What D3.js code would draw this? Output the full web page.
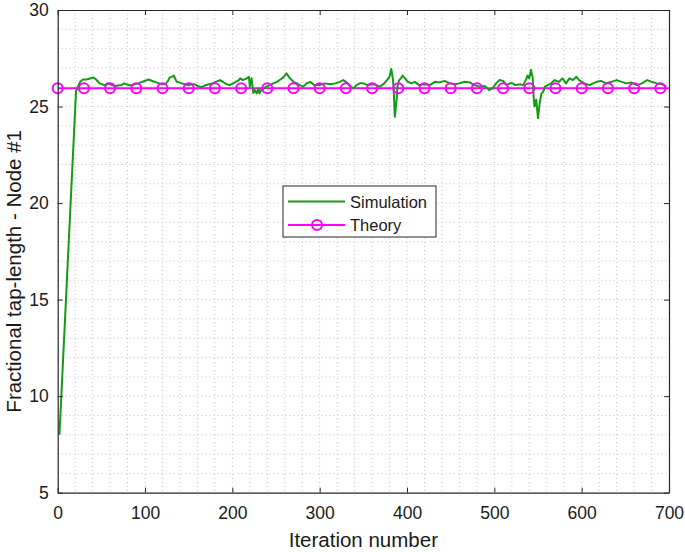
<!DOCTYPE html>
<html>
<head>
<meta charset="utf-8">
<script src="https://cdn.jsdelivr.net/npm/d3@7"></script>
<style>
  body { margin: 0; background: #fff; }
  svg { font-family: "Liberation Sans", Arial, sans-serif; }
</style>
</head>
<body>
<svg id="chart" width="685" height="552"></svg>
<script>
// simulated fractional tap-length
var simIter = [2, 21, 23, 26, 29, 33, 37, 41, 44, 48, 51, 54, 57, 60, 63, 66, 70, 73, 76, 79,
  82, 85, 88, 92, 95, 98, 101, 104, 107, 110, 113, 116, 119, 123, 126, 128, 131, 133, 136, 139,
  142, 146, 150, 153, 157, 161, 165, 169, 173, 177, 181, 186, 190, 194, 197, 201, 204, 207, 209, 212,
  216, 219, 220, 222, 224, 226, 228, 230, 231, 233, 236, 239, 243, 247, 251, 255, 258, 262, 266, 270,
  274, 277, 281, 285, 289, 294, 300, 306, 312, 318, 323, 327, 331, 335, 339, 342, 346, 350, 355, 363,
  369, 374, 377, 380, 382, 384, 385, 386, 388, 389, 391, 393, 395, 397, 401, 405, 409, 414, 420, 426,
  432, 437, 443, 449, 455, 460, 466, 472, 477, 483, 489, 494, 498, 502, 506, 510, 514, 518, 521, 524,
  530, 533, 536, 538, 540, 542, 544, 545, 546, 548, 550, 552, 554, 556, 558, 561, 565, 569, 574, 578,
  582, 586, 590, 594, 597, 603, 609, 613, 617, 622, 628, 634, 640, 646, 651, 657, 663, 669, 675, 680,
  686, 692, 697];
var simValue = [8.0, 25.8, 26.0, 26.3, 26.4, 26.4, 26.45, 26.5, 26.4, 26.2, 26.15, 26.1, 26.2, 26.15, 26.1, 26.05, 26.1, 26.1, 26.2, 26.15,
  26.1, 26.1, 26.15, 26.2, 26.25, 26.3, 26.35, 26.4, 26.35, 26.3, 26.25, 26.2, 26.15, 26.15, 26.3, 26.5, 26.55, 26.6, 26.3, 26.25,
  26.2, 26.15, 26.1, 26.15, 26.15, 26.05, 26.0, 26.1, 26.15, 26.2, 26.28, 26.37, 26.25, 26.15, 26.11, 26.2, 26.28, 26.35, 26.46, 26.37,
  26.45, 26.54, 26.03, 26.46, 25.7, 25.85, 25.68, 25.95, 25.68, 25.85, 25.94, 26.03, 26.11, 26.2, 26.28, 26.4, 26.5, 26.72, 26.46, 26.28,
  26.2, 26.11, 26.03, 26.2, 26.28, 26.11, 26.11, 26.2, 26.15, 26.2, 26.28, 26.37, 26.25, 26.03, 25.94, 26.11, 26.2, 26.2, 26.11, 26.15,
  26.03, 26.2, 26.37, 26.55, 26.95, 26.37, 25.6, 24.47, 25.3, 26.03, 26.37, 26.46, 26.6, 26.5, 26.28, 26.2, 26.28, 26.11, 26.15, 26.11,
  26.28, 26.25, 26.33, 26.2, 26.15, 26.2, 26.28, 26.25, 26.11, 26.03, 26.06, 25.85, 25.94, 26.2, 26.37, 26.33, 26.11, 26.2, 26.2, 26.11,
  26.15, 26.11, 26.37, 26.6, 26.46, 26.9, 26.46, 25.5, 25.0, 25.35, 24.4, 25.2, 25.68, 25.77, 26.03, 26.11, 26.2, 26.37, 26.28, 26.46,
  26.2, 26.46, 26.37, 26.54, 26.37, 26.2, 26.11, 26.2, 26.28, 26.33, 26.2, 26.28, 26.37, 26.28, 26.2, 26.24, 26.11, 26.2, 26.37, 26.28,
  26.2, 26.15, 26.03];

// theoretical steady state, markers every 30 iterations
var theoryIter = d3.range(0, 691, 30);
var theoryValue = 25.95;

var xTicks = [0, 100, 200, 300, 400, 500, 600, 700];
var yTicks = [5, 10, 15, 20, 25, 30];

var svg = d3.select("#chart");
var margin = {left: 57.7, top: 10, right: 16, bottom: 59.3};
var width = 685 - margin.left - margin.right;
var height = 552 - margin.top - margin.bottom;

var x = d3.scaleLinear().domain([0, 700]).range([0, width]);
var y = d3.scaleLinear().domain([5, 30]).range([height, 0]);

var g = svg.append("g").attr("transform", "translate(" + margin.left + "," + margin.top + ")");

// dotted grid (every 20 in x, every 1 in y)
var grid = g.append("g").attr("stroke", "#c4c4c4").attr("stroke-width", 1).attr("stroke-dasharray", "1,3");
d3.range(20, 700, 20).forEach(function (v) {
  grid.append("line").attr("x1", x(v)).attr("x2", x(v)).attr("y1", 0).attr("y2", height);
});
d3.range(6, 30, 1).forEach(function (v) {
  grid.append("line").attr("x1", 0).attr("x2", width).attr("y1", y(v)).attr("y2", y(v));
});

var line = d3.line().x(function (d) { return x(d[0]); }).y(function (d) { return y(d[1]); });

// theory line
g.append("line")
  .attr("x1", x(0)).attr("x2", x(700))
  .attr("y1", y(theoryValue)).attr("y2", y(theoryValue))
  .attr("stroke", "#ff00ff").attr("stroke-width", 2);

// simulation
g.append("path")
  .datum(simIter.map(function (d, i) { return [d, simValue[i]]; }))
  .attr("d", line)
  .attr("fill", "none")
  .attr("stroke", "#159a15")
  .attr("stroke-width", 2)
  .attr("stroke-linejoin", "round");

// theory markers
g.selectAll("circle.theory")
  .data(theoryIter)
  .enter().append("circle")
  .attr("class", "theory")
  .attr("cx", function (d) { return x(d); })
  .attr("cy", y(theoryValue))
  .attr("r", 5)
  .attr("fill", "none")
  .attr("stroke", "#ff00ff")
  .attr("stroke-width", 2);

// axes (ticks inside, box all round)
var axisColor = "#262626";
var xAxis = g.append("g").attr("transform", "translate(0," + height + ")")
  .call(d3.axisBottom(x).tickValues(xTicks).tickSizeInner(-5).tickSizeOuter(0).tickPadding(14));
var yAxis = g.append("g")
  .call(d3.axisLeft(y).tickValues(yTicks).tickSizeInner(-5).tickSizeOuter(0).tickPadding(9));
var xTop = g.append("g")
  .call(d3.axisTop(x).tickValues(xTicks).tickSizeInner(-5).tickSizeOuter(0).tickFormat(""));
var yRight = g.append("g").attr("transform", "translate(" + width + ",0)")
  .call(d3.axisRight(y).tickValues(yTicks).tickSizeInner(-5).tickSizeOuter(0).tickFormat(""));

[xAxis, yAxis, xTop, yRight].forEach(function (a) {
  a.select(".domain").attr("stroke", axisColor).attr("stroke-width", 1.2);
  a.selectAll(".tick line").attr("stroke", axisColor);
  a.selectAll("text").attr("fill", "#1a1a1a").style("font-size", "17.5px")
    .style("font-family", '"Liberation Sans", Arial, sans-serif');
});

// axis labels
svg.append("text")
  .attr("x", margin.left + width / 2)
  .attr("y", 547)
  .attr("text-anchor", "middle")
  .style("font-size", "20.5px")
  .attr("fill", "#1a1a1a")
  .text("Iteration number");

svg.append("text")
  .attr("transform", "translate(21," + (margin.top + height / 2 + 20) + ") rotate(-90)")
  .attr("text-anchor", "middle")
  .style("font-size", "20.5px")
  .attr("fill", "#1a1a1a")
  .text("Fractional tap-length - Node #1");

// legend
var leg = svg.append("g").attr("transform", "translate(283,186)");
leg.append("rect").attr("width", 153).attr("height", 51)
  .attr("fill", "#fff").attr("stroke", axisColor).attr("stroke-width", 1);
leg.append("line").attr("x1", 5).attr("x2", 62).attr("y1", 15.5).attr("y2", 15.5)
  .attr("stroke", "#159a15").attr("stroke-width", 2);
leg.append("text").attr("x", 67).attr("y", 21.5).style("font-size", "16.5px").attr("fill", "#1a1a1a").text("Simulation");
leg.append("line").attr("x1", 5).attr("x2", 62).attr("y1", 39).attr("y2", 39)
  .attr("stroke", "#ff00ff").attr("stroke-width", 2);
leg.append("circle").attr("cx", 34).attr("cy", 39).attr("r", 5)
  .attr("fill", "none").attr("stroke", "#ff00ff").attr("stroke-width", 2);
leg.append("text").attr("x", 67).attr("y", 45).style("font-size", "16.5px").attr("fill", "#1a1a1a").text("Theory");
</script>
</body>
</html>
